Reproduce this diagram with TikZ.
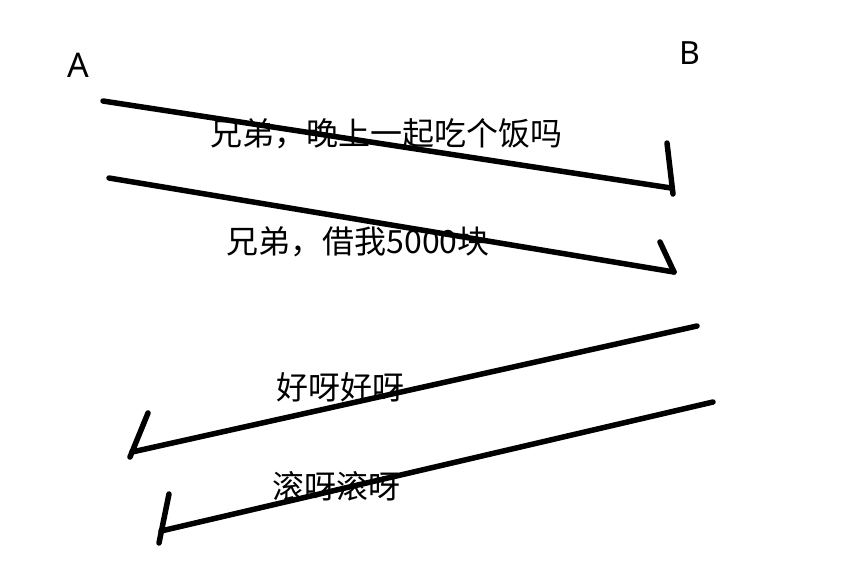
\documentclass[tikz,border=0pt]{standalone}
\usepackage{fontspec}
\setmainfont{Noto Sans}
\newfontfamily\cjk{Noto Sans CJK SC}
\begin{document}
\begin{tikzpicture}[x=1pt,y=-1pt,
  stroke/.style={line width=5.5pt, line cap=round, line join=round},
  msg/.style={font=\cjk\fontsize{32}{38}\selectfont, inner sep=0pt},
  party/.style={font=\fontsize{32}{38}\selectfont, inner sep=0pt}]
\useasboundingbox (0,0) rectangle (856,573);
\node[party, font=\fontsize{34}{40}\selectfont] (A) at (78,65) {A};
\node[party] (B) at (690,53) {B};
% message 1
\coordinate (s1) at (103,101);
\coordinate (e1) at (671,188);
\coordinate (h1a) at (667,143);
\coordinate (h1b) at (673,194);
\draw[stroke] (s1) -- (e1);
\draw[stroke] (h1a) -- (h1b);
\node[msg] (m1) at (386,134) {兄弟，晚上一起吃个饭吗};
% message 2
\coordinate (s2) at (109,178);
\coordinate (e2) at (674,272);
\coordinate (h2a) at (660,242);
\draw[stroke] (s2) -- (e2);
\draw[stroke] (h2a) -- (e2);
\node[msg] (m2) at (358,242) {兄弟，借我5000块};
% message 3
\coordinate (s3) at (697,326);
\coordinate (e3) at (132,452);
\coordinate (h3a) at (148,413);
\coordinate (h3b) at (130,457);
\draw[stroke] (s3) -- (e3);
\draw[stroke] (h3a) -- (h3b);
\node[msg] (m3) at (340,387) {好呀好呀};
% message 4
\coordinate (s4) at (713,402);
\coordinate (e4) at (161,531);
\coordinate (h4a) at (169,494);
\coordinate (h4b) at (159,543);
\draw[stroke] (s4) -- (e4);
\draw[stroke] (h4a) -- (h4b);
\node[msg] (m4) at (336,486) {滚呀滚呀};
\end{tikzpicture}
\end{document}
